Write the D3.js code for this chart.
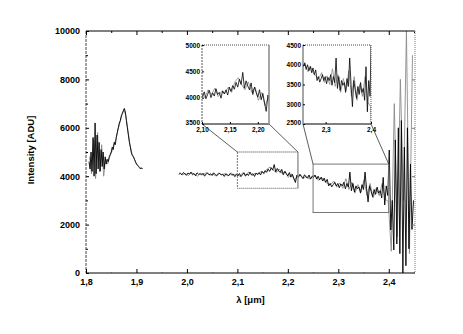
<!DOCTYPE html>
<html><head><meta charset="utf-8">
<script src="https://cdn.jsdelivr.net/npm/d3@7"></script>
<style>
body{margin:0;background:#fff;}
svg text{font-family:"Liberation Sans",Arial,sans-serif;font-weight:bold;fill:#000;}
</style></head><body>
<svg id="c" width="463" height="334"></svg>
<script>
// ---------- DATA ----------
// Segment A (black): lambda grid start/step, intensity values [ADU]
const segAStart = 1.806, segAStep = 0.002;
const segABlack = [4600,4300,5000,4200,5600,4000,6200,4100,5700,4300,
  5400,4200,5100,4400,5000,4300,4800,4500,4700,4600,
  4800,4900,5000,5200,5100,5400,5300,5600,5800,6000,
  6200,6300,6500,6600,6700,6800,6650,6300,6000,5700,
  5400,5200,4950,4850,4800,4700,4600,4500,4450,4400,
  4350,4300,4350,4300];
// Segment A (gray)
const segAGrayStart = 1.807, segAGrayStep = 0.004;
const segAGray = [4800,4100,5500,3900,5800,4200,5300,4000,4700,4500,4800,5000,5300,5500,
  5900,6200,6500,6750,6500,5900,5300,4950,4750,4550,4450,4350,4300];
// Segment B (black)
const segBStart = 1.984, segBStep = 0.003;
const segBBlack = [
  4080,4120,4060,4150,4100,4040,4130,4090,4170,4060,
  4110,4020,4140,4080,4100,4050,4120,4000,4090,4130,
  4060,4100,4030,4140,4070,4010,4090,4120,4050,4080,
  3990,4100,4060,4020,4110,4040,4080,3980,4070,
  4020,4110,3980,4060,4140,4000,4090,4030,4170,4060,4100,3990,4130,4070,
  4150,4050,4200,4120,4230,4160,4290,4200,4350,4250,4480,4180,4320,4220,
  4150,4280,4060,4200,4100,4010,4150,3960,4080,3900,3740,4050,
  3950,4080,3980,3900,4060,3970,3920,4050,3880,3990,
  3950,4050,3880,4000,3850,3960,3800,3920,3750,3870,
  3600,3700,3560,3650,3750,3600,3700,3520,3680,3600,
  3750,3480,3700,3550,4170,3400,3700,3350,3600,3480,
  3550,3300,3650,3450,4170,3500,2940,3600,3380,3150,
  3450,3250,3550,3300,3400,3100,3950,2810,3600,3200,
  5080,1780,3000,950,5500,1200,6000,800,6300,0,5200,300,6000,1000,4500,1800,3000];
// Segment B (gray)
const segBGrayStart = 1.985, segBGrayStep = 0.006;
const segBGray = [
  4140,4060,4110,4030,4150,4080,4000,4120,4070,4160,4040,4090,4020,4130,4060,4100,4010,4140,4050,4090,
  4000,4150,4060,4180,4020,4120,4080,
  4200,4100,4300,4380,4250,4150,4300,
  4100,4200,3950,4100,3850,4000,
  4050,3920,4000,3880,4020,
  4000,3820,3950,3780,3700,
  3650,3800,3550,3720,3500,
  3900,3450,3750,3300,3650,
  3350,3850,3200,3700,3100,
  3500,3200,3700,3050,2950,
  900,7000,1500,8000,3000,10000,800,9000];
// Axis ticks
const xTicksMain = [1.8,1.9,2.0,2.1,2.2,2.3,2.4];
const yTicksMain = [0,2000,4000,6000,8000,10000];
const inset1XTicks = [2.10,2.15,2.20];
const inset1YTicks = [3500,4000,4500,5000];
const inset2XTicks = [2.3,2.4];
const inset2YTicks = [2500,3000,3500,4000,4500];
const inset1Domain = {x:[2.10,2.22], y:[3500,5000]};
const inset2Domain = {x:[2.25,2.40], y:[2500,4500]};

// ---------- BUILD ----------
function toPts(start, step, vals){ return vals.map((v,i)=>[start+i*step, v]); }
const series = [
  {pts: toPts(segAGrayStart, segAGrayStep, segAGray), color:"#8a8a8a"},
  {pts: toPts(segBGrayStart, segBGrayStep, segBGray), color:"#8a8a8a"},
  {pts: toPts(segAStart, segAStep, segABlack), color:"#000"},
  {pts: toPts(segBStart, segBStep, segBBlack), color:"#000"}
];
const loc = d3.formatLocale({decimal:",", thousands:"", grouping:[3], currency:["",""]});

const svg = d3.select("#c");
const L=86, R=415, T=31, B=273;
const x = d3.scaleLinear().domain([1.8,2.452]).range([L,R]);
const y = d3.scaleLinear().domain([0,10000]).range([B,T]);

svg.append("defs").append("clipPath").attr("id","cm").append("rect")
  .attr("x",L).attr("y",T).attr("width",R-L).attr("height",B-T);

function drawSeries(g, xs, ys, sw){
  const line = d3.line().x(d=>xs(d[0])).y(d=>ys(d[1]));
  series.forEach(s=>{
    g.append("path").attr("d",line(s.pts)).attr("fill","none")
     .attr("stroke",s.color).attr("stroke-width",sw).attr("stroke-linejoin","miter");
  });
}
drawSeries(svg.append("g").attr("clip-path","url(#cm)"), x, y, 0.9);

// main frame
const fr = svg.append("g");
fr.append("line").attr("x1",L).attr("x2",R).attr("y1",B).attr("y2",B).attr("stroke","#000").attr("stroke-width",1);
fr.append("line").attr("x1",L).attr("x2",R).attr("y1",T).attr("y2",T).attr("stroke","#000").attr("stroke-width",1);
fr.append("line").attr("x1",L).attr("x2",L).attr("y1",T).attr("y2",B).attr("stroke","#666").attr("stroke-width",1.2).attr("stroke-dasharray","3,1");
fr.append("line").attr("x1",R).attr("x2",R).attr("y1",T).attr("y2",B).attr("stroke","#777").attr("stroke-width",1).attr("stroke-dasharray","1,1");

// main axes ticks
const xMinor = d3.range(1.85,2.45,0.1);
const gxb = svg.append("g").attr("transform",`translate(0,${B})`)
  .call(d3.axisBottom(x).tickValues(xTicksMain).tickSize(-4).tickPadding(6).tickFormat(loc.format(".1f")));
gxb.select(".domain").remove();
gxb.selectAll("text").attr("font-size",9).attr("dy","0.71em");
svg.append("g").attr("transform",`translate(0,${B})`)
  .call(d3.axisBottom(x).tickValues(xMinor).tickSize(-2).tickFormat(""))
  .call(g=>g.select(".domain").remove()).selectAll("line").attr("stroke","#555").attr("stroke-dasharray","1,1");
const gxt = svg.append("g").attr("transform",`translate(0,${T})`)
  .call(d3.axisTop(x).tickValues(xTicksMain).tickSize(-4).tickFormat(""));
gxt.select(".domain").remove();
svg.append("g").attr("transform",`translate(0,${T})`)
  .call(d3.axisTop(x).tickValues(xMinor).tickSize(-2).tickFormat(""))
  .call(g=>g.select(".domain").remove());

const gy = svg.append("g").attr("transform",`translate(${L},0)`)
  .call(d3.axisLeft(y).tickValues(yTicksMain).tickSize(-3).tickPadding(6).tickFormat(d3.format("d")));
gy.select(".domain").remove();
gy.selectAll("text").attr("font-size",9);
svg.append("g").attr("transform",`translate(${L},0)`)
  .call(d3.axisLeft(y).tickValues(d3.range(1000,10000,2000)).tickSize(-2).tickFormat(""))
  .call(g=>g.select(".domain").remove());
svg.append("g").attr("transform",`translate(${R},0)`)
  .call(d3.axisRight(y).tickValues(yTicksMain).tickSize(-3).tickFormat(""))
  .call(g=>g.select(".domain").remove()).selectAll("line").attr("stroke","#777");

// axis titles
svg.append("text").attr("x",(L+R)/2).attr("y",303).attr("text-anchor","middle").attr("font-size",9.5).text("λ [μm]");
svg.append("text").attr("transform",`translate(34,${(T+B)/2-2}) rotate(-90)`).attr("text-anchor","middle").attr("font-size",9.5).text("Intensity [ADU]");

// zoom rectangles in main plot
function zoomRect(dom, style){
  const x0=x(dom.x[0]), x1=x(dom.x[1]), y0=y(dom.y[1]), y1=y(dom.y[0]);
  const g=svg.append("g").attr("fill","none");
  if(style===1){
    g.append("line").attr("x1",x0).attr("x2",x1).attr("y1",y0).attr("y2",y0).attr("stroke","#777").attr("stroke-width",1.3).attr("stroke-dasharray","1,1");
    g.append("line").attr("x1",x0).attr("x2",x1).attr("y1",y1).attr("y2",y1).attr("stroke","#777").attr("stroke-width",1.3).attr("stroke-dasharray","1,1");
    g.append("line").attr("x1",x0).attr("x2",x0).attr("y1",y0).attr("y2",y1).attr("stroke","#777").attr("stroke-width",1).attr("stroke-dasharray","2,1");
    g.append("line").attr("x1",x1).attr("x2",x1).attr("y1",y0).attr("y2",y1).attr("stroke","#888").attr("stroke-width",1.3);
  } else {
    g.append("rect").attr("x",x0).attr("y",y0).attr("width",x1-x0).attr("height",y1-y0).attr("stroke","#777").attr("stroke-width",1);
  }
  return {x0,x1,y0};
}
const r1 = zoomRect(inset1Domain,1);
const r2 = zoomRect(inset2Domain,2);

// insets
function inset(id, dom, box, xt, yt, xfmt, style, rect){
  const xs=d3.scaleLinear().domain(dom.x).range([box.l,box.r]);
  const ys=d3.scaleLinear().domain(dom.y).range([box.b,box.t]);
  svg.append("defs").append("clipPath").attr("id",id).append("rect")
    .attr("x",box.l).attr("y",box.t).attr("width",box.r-box.l).attr("height",box.b-box.t);
  drawSeries(svg.append("g").attr("clip-path",`url(#${id})`), xs, ys, 0.8);
  const g=svg.append("g").attr("fill","none");
  g.append("line").attr("x1",box.l).attr("x2",box.r).attr("y1",box.b).attr("y2",box.b).attr("stroke","#000").attr("stroke-width",1);
  g.append("line").attr("x1",box.l).attr("x2",box.r).attr("y1",box.t).attr("y2",box.t).attr("stroke","#888").attr("stroke-width",1.3).attr("stroke-dasharray","1,1");
  if(style===1){
    g.append("line").attr("x1",box.l).attr("x2",box.l).attr("y1",box.t).attr("y2",box.b).attr("stroke","#555").attr("stroke-width",1).attr("stroke-dasharray","2,1");
    g.append("line").attr("x1",box.r).attr("x2",box.r).attr("y1",box.t).attr("y2",box.b).attr("stroke","#888").attr("stroke-width",1.5);
  } else {
    g.append("line").attr("x1",box.l).attr("x2",box.l).attr("y1",box.t).attr("y2",box.b).attr("stroke","#888").attr("stroke-width",1.5);
    g.append("line").attr("x1",box.r).attr("x2",box.r).attr("y1",box.t).attr("y2",box.b).attr("stroke","#555").attr("stroke-width",1).attr("stroke-dasharray","1,1");
  }
  const ax=svg.append("g").attr("transform",`translate(0,${box.b})`)
    .call(d3.axisBottom(xs).tickValues(xt).tickSize(-2).tickPadding(3).tickFormat(loc.format(xfmt)));
  ax.select(".domain").remove();
  ax.selectAll("text").attr("font-size",6.5).attr("dy","0.71em");
  const ay=svg.append("g").attr("transform",`translate(${box.l},0)`)
    .call(d3.axisLeft(ys).tickValues(yt).tickSize(-2).tickPadding(2).tickFormat(d3.format("d")));
  ay.select(".domain").remove();
  ay.selectAll("text").attr("font-size",6.5).attr("dy",d=>d===dom.y[0]?"0.1em":"0.32em");
  // connector lines
  svg.append("line").attr("x1",box.l).attr("y1",box.b).attr("x2",rect.x0).attr("y2",rect.y0).attr("stroke","#333").attr("stroke-width",0.8);
  svg.append("line").attr("x1",box.r).attr("y1",box.b).attr("x2",rect.x1).attr("y2",rect.y0).attr("stroke","#333").attr("stroke-width",0.8);
}
inset("ci1", inset1Domain, {l:202,r:269,t:45,b:124}, inset1XTicks, inset1YTicks, ".2f", 1, r1);
inset("ci2", inset2Domain, {l:303,r:371,t:45,b:124}, inset2XTicks, inset2YTicks, ".1f", 2, r2);
</script>
</body></html>
